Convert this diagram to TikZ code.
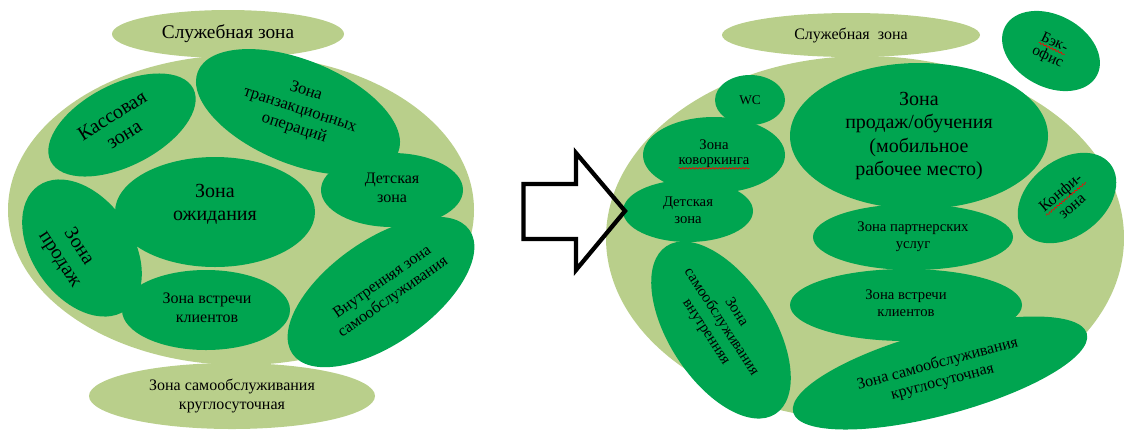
\documentclass[tikz,border=0pt]{standalone}
\usepackage{fontspec}
\setmainfont{Liberation Serif}
\newfontfamily\zonefont{Liberation Serif}
\usetikzlibrary{decorations.pathmorphing,calc}
\definecolor{lightg}{RGB}{185,207,139}
\definecolor{darkg}{RGB}{0,165,80}
\tikzset{
  lg/.style={fill=lightg},
  dg/.style={fill=darkg},
  lbl/.style={align=center, inner sep=0pt, text=black},
  fs/.style 2 args={font=\zonefont\fontsize{#1}{#2}\selectfont},
  blockarrow/.style={draw=black, line width=3.2pt, line join=miter, miter limit=10},
  spell/.style={draw=red, line width=0.5pt, decorate, decoration={snake, segment length=2.5pt, amplitude=0.6pt}}
}
\begin{document}
\begin{tikzpicture}[x=0.75pt,y=-0.75pt]
\useasboundingbox (0,0) rectangle (1124,430);
% ---------- left ----------
\fill[lg] (241,210) ellipse [x radius=233, y radius=155];
\fill[lg] (228,34) ellipse [x radius=116, y radius=24];
\fill[lg] (232,396) ellipse [x radius=143, y radius=33];
\fill[dg, rotate around={27:(122,125)}] (122,125) ellipse [x radius=80, y radius=41];
\fill[dg, rotate around={-22:(298,112)}] (298,112) ellipse [x radius=108, y radius=52];
\fill[dg] (392,190) ellipse [x radius=71, y radius=37];
\fill[dg] (215,212) ellipse [x radius=100, y radius=55];
\fill[dg, rotate around={-55:(82,248)}] (82,248) ellipse [x radius=76, y radius=50];
\fill[dg] (206,310) ellipse [x radius=84, y radius=40];
\fill[dg, rotate around={35:(381,292)}] (381,292) ellipse [x radius=108, y radius=52];

\node[lbl, fs={14.5}{17}] (lserv) at (228,34) {Служебная зона};
\node[lbl, fs={12}{14}] (l24) at (232,396) {Зона самообслуживания\\круглосуточная};
\node[lbl, fs={15}{17}, rotate=32] (lkass) at (118,125) {Кассовая\\зона};
\node[lbl, fs={12.5}{14.5}, rotate=-18] (ltrans) at (300,110) {Зона\\транзакционных\\операций};
\node[lbl, fs={12}{14}] (ldet) at (392,188) {Детская\\зона};
\node[lbl, fs={15}{17}] (lwait) at (215,204) {Зона\\ожидания};
\node[lbl, fs={15}{17}, rotate=-57] (lsales) at (69,253) {Зона\\продаж};
\node[lbl, fs={12}{14}] (lmeet) at (207,308) {Зона встречи\\клиентов};
\node[lbl, fs={12}{14}, rotate=35] (linner) at (388,290) {Внутренняя зона\\самообслуживания};

% ---------- right ----------
\fill[lg] (865,238) ellipse [x radius=259, y radius=182];
\fill[lg] (851,35) ellipse [x radius=129, y radius=22];
\fill[dg, rotate around={-28:(1051,51)}] (1051,51) ellipse [x radius=52, y radius=36];
\fill[dg] (750,100) ellipse [x radius=35, y radius=25];
\fill[dg] (714,155) ellipse [x radius=71, y radius=38];
\fill[dg] (688,211) ellipse [x radius=65, y radius=31];
\fill[dg] (919,136) ellipse [x radius=129, y radius=73];
\fill[dg, rotate around={38:(1067,198)}] (1067,198) ellipse [x radius=55, y radius=38];
\fill[dg] (913,237) ellipse [x radius=100, y radius=33];
\fill[dg] (906,305) ellipse [x radius=116, y radius=36];
\fill[dg, rotate around={-57:(721,330)}] (721,330) ellipse [x radius=100, y radius=52];
\fill[dg, rotate around={15:(940,373)}] (940,373) ellipse [x radius=152, y radius=42];

\node[lbl, fs={12}{14}] (rserv) at (851,35) {Служебная\ \ зона};
\begin{scope}[shift={(1051,50)}, rotate=-25, transform shape]
  \node[lbl, fs={11.5}{13}] (rback1) at (0,-9) {Бэк-};
  \node[lbl, fs={11.5}{13}] (rback2) at (0,8) {офис};
\end{scope}
\draw[spell] ($(rback1.south west)!1.5pt!-90:(rback1.south east)$) -- ($(rback1.south east)!1.5pt!90:(rback1.south west)$);
\node[lbl, fs={10}{12}] (rwc) at (750,100) {WC};
\node[lbl, fs={11}{13}] (rcow1) at (714,145) {Зона};
\node[lbl, fs={11}{13}] (rcow2) at (714,163) {коворкинга};
\draw[spell] (rcow2.south west) -- (rcow2.south east);
\node[lbl, fs={11}{13}] (rdet) at (688,210) {Детская\\зона};
\node[lbl, fs={15}{17.5}] (rsales) at (919,136) {Зона\\продаж/обучения\\(мобильное\\рабочее место)};
\begin{scope}[shift={(1067,200)}, rotate=40, transform shape]
  \node[lbl, fs={12}{14}] (rkonf1) at (0,-9) {Конфи-};
  \node[lbl, fs={12}{14}] (rkonf2) at (0,9) {зона};
\end{scope}
\draw[spell] (rkonf1.south west) -- (rkonf1.south east);
\node[lbl, fs={11}{13}] (rpart) at (913,237) {Зона партнерских\\услуг};
\node[lbl, fs={11}{13}] (rmeet) at (906,303) {Зона встречи\\клиентов};
\node[lbl, fs={11.5}{13.5}, rotate=-57] (rinner) at (721,322) {Зона\\самообслуживания\\внутренняя};
\node[lbl, fs={12}{14}, rotate=15] (r24) at (940,373) {Зона самообслуживания\\круглосуточная};

% ---------- arrow ----------
\draw[blockarrow] (523.5,184) -- (576,184) -- (576,153) -- (625,211) -- (576,270) -- (576,239) -- (523.5,239) -- cycle;
\end{tikzpicture}
\end{document}
